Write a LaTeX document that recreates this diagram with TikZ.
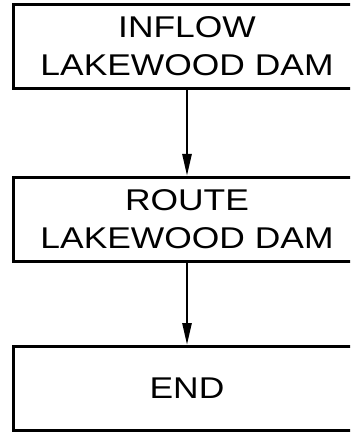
\documentclass[tikz,border=0pt]{standalone}
\usepackage{fontspec}
\newfontfamily\handfont[FakeStretch=1.18]{Liberation Sans}
\usetikzlibrary{arrows.meta,positioning}

\begin{document}
\begin{tikzpicture}[
  x=1pt, y=-1pt,
  >={Triangle[width=9pt,length=22pt]},
  stepbox/.style={
    rectangle, draw, line width=3pt,
    minimum width=348pt, minimum height=84pt,
    align=center, inner sep=0pt,
    font=\handfont\fontsize{30}{38}\selectfont
  },
  flowarrow/.style={
    ->, line width=2.6pt
  }
]

% Frame (boxes run off the right edge)
\clip (0,0) rectangle (350,435);

% ===== Steps =====
\node[stepbox] (inflow) at (187, 46.5) {INFLOW\\LAKEWOOD DAM};
\node[stepbox] (route) at (187, 219.5) {ROUTE\\LAKEWOOD DAM};
\node[stepbox] (finish) at (187, 388.5) {END};

% Flow arrows between steps
\draw[flowarrow] (inflow) -- (route);
\draw[flowarrow] (route) -- (finish);

\end{tikzpicture}
\end{document}
